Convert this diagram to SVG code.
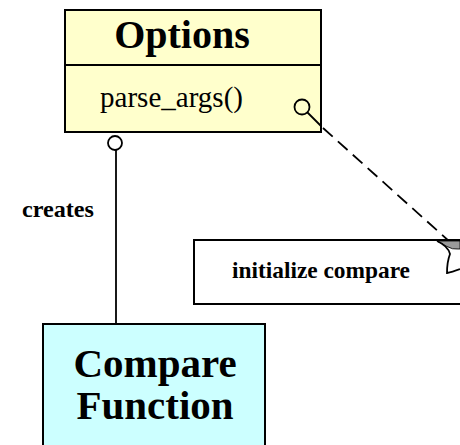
<svg xmlns="http://www.w3.org/2000/svg" width="460" height="445" viewBox="0 0 460 445">
<style>
.box{stroke:#000;stroke-width:2}
.t{font-family:"Liberation Serif","Times New Roman",serif;fill:#000}
.b{font-weight:bold}
.ln{stroke:#000;stroke-width:1.8;fill:none}
</style>
<rect width="460" height="445" fill="#fff"/>
<g id="options">
<rect class="box" x="65" y="10" width="256" height="122" fill="#ffffcc"/>
<line class="box" x1="65" y1="65" x2="321" y2="65"/>
<text class="t b" x="182" y="48" font-size="40" text-anchor="middle">Options</text>
<text class="t" x="100" y="107" font-size="30" textLength="143" lengthAdjust="spacingAndGlyphs">parse_args()</text>
</g>
<g id="note">
<rect class="box" x="194" y="240" width="280" height="64" fill="#fff"/>
<text class="t b" x="232" y="278" font-size="24" textLength="178" lengthAdjust="spacingAndGlyphs">initialize compare</text>
</g>
<g id="compare">
<rect class="box" x="43" y="324" width="222" height="130" fill="#ccffff"/>
<text class="t b" x="155" y="377" font-size="41" text-anchor="middle">Compare</text>
<text class="t b" x="155" y="419" font-size="41" text-anchor="middle">Function</text>
</g>
<g id="connectors">
<line class="ln" x1="116" y1="150" x2="116" y2="324"/>
<circle class="ln" cx="115" cy="143" r="7" fill="#fff"/>
<circle class="ln" cx="302" cy="107" r="7.5" fill="#fff"/>
<line class="ln" x1="307.5" y1="112.5" x2="321" y2="126"/>
<line class="ln" x1="323" y1="128" x2="450" y2="242" stroke-dasharray="13,7"/>
<path d="M437,241 L460,241 L460,249 Q452,250 446,246 Z" fill="#9a9a9a" stroke="#000" stroke-width="0.8"/>
<path class="ln" d="M437,241 Q448,246 450,254 Q447,262 447,273 Q452,272 460,269"/>
<text class="t b" x="22" y="217" font-size="24" textLength="72" lengthAdjust="spacingAndGlyphs">creates</text>
</g>
</svg>
